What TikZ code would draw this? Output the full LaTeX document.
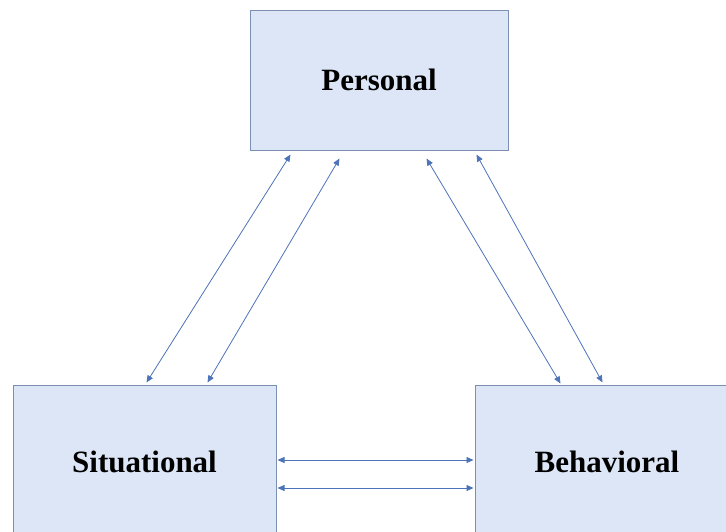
\documentclass[tikz,border=0pt]{standalone}
\usepackage{fontspec}
\setmainfont{Liberation Serif}
\usetikzlibrary{arrows.meta,calc}
\definecolor{boxfill}{RGB}{221,230,246}
\definecolor{boxline}{RGB}{125,143,176}
\definecolor{arrblue}{RGB}{68,114,196}
\tikzset{
  factor/.style={draw=boxline,line width=1pt,fill=boxfill,rectangle,inner sep=0pt,
    font=\fontsize{31}{37}\selectfont\bfseries},
  link/.style={draw=arrblue!85!gray,line width=0.8pt,{Triangle[length=7pt,width=6pt]}-{Triangle[length=7pt,width=6pt]}}
}
\begin{document}
\begin{tikzpicture}[x=1pt,y=-1pt]
\useasboundingbox (0,0) rectangle (726,531);
\fill[white] (0,0) rectangle (726,531);
\clip (0,0) rectangle (726,531);
\node[factor,minimum width=258pt,minimum height=140pt] (P) at (379,80) {Personal};
\node[factor,minimum width=263pt,minimum height=154pt] (S) at (144.5,462) {Situational};
\node[factor,minimum width=264pt,minimum height=154pt] (B) at (607,462) {Behavioral};
\draw[link] ($(P.south west)+(41,4)$) -- ($(S.north west)+(134,-2)$);
\draw[link] ($(P.south west)+(90,8)$) -- ($(S.north west)+(195,-2)$);
\draw[link] ($(P.south west)+(177,8)$) -- ($(B.north west)+(86,-1)$);
\draw[link] ($(P.south west)+(227,4)$) -- ($(B.north west)+(128,-2)$);
\draw[link] ($(S.east)+(1,-2)$) -- ($(B.west)+(-1,-2)$);
\draw[link] ($(S.east)+(1,26)$) -- ($(B.west)+(-1,26)$);
\end{tikzpicture}
\end{document}
